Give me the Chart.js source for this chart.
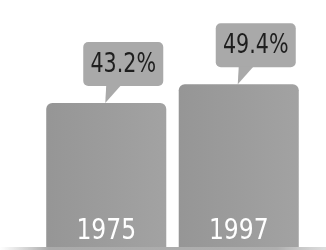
<!DOCTYPE html>
<html>
<head>
<meta charset="utf-8">
<script src="https://cdn.jsdelivr.net/npm/chart.js@4"></script>
<style>
  html, body { margin: 0; padding: 0; background: #fff; }
  #wrap { width: 326px; height: 250px; }
</style>
</head>
<body>
<div id="wrap"><canvas id="myChart"></canvas></div>
<script>
const years = ['1975', '1997'];
const shares = [43.2, 49.4];
const shareLabels = ['43.2%', '49.4%'];

const narrow = "'DejaVu Sans Condensed', 'DejaVu Sans', sans-serif";

// draw text squeezed horizontally, the reference uses a narrow DIN-like face
function squeezed(ctx, text, x, y, sx) {
    ctx.save();
    ctx.translate(x, y);
    ctx.scale(sx, 1);
    ctx.fillText(text, 0, 0);
    ctx.restore();
}

// callout boxes + year labels inside the bars
const labelsPlugin = {
    id: 'labels',
    afterDatasetsDraw(chart) {
        const ctx = chart.ctx;
        const area = chart.chartArea;
        const bars = chart.getDatasetMeta(0).data;
        ctx.save();

        // soft floor line
        let g = ctx.createLinearGradient(0, 0, chart.width, 0);
        g.addColorStop(0, 'rgba(180,180,180,0)');
        g.addColorStop(0.15, 'rgba(170,170,170,1)');
        g.addColorStop(0.85, 'rgba(175,175,175,1)');
        g.addColorStop(1, 'rgba(200,200,200,0.6)');
        ctx.fillStyle = g;
        ctx.fillRect(0, area.bottom, chart.width, 3);

        bars.forEach((bar, i) => {
            // year
            ctx.fillStyle = '#ffffff';
            ctx.font = '29px ' + narrow;
            ctx.textAlign = 'center';
            ctx.textBaseline = 'alphabetic';
            squeezed(ctx, years[i], bar.x, area.bottom - 8, 0.9);

            // callout
            const w = 80, h = 44;
            const bx = bar.x + 17 - w / 2;
            const bBottom = bar.y - 17;
            const by = bBottom - h;
            ctx.fillStyle = '#a9a9a9';
            ctx.beginPath();
            ctx.roundRect(bx, by, w, h, 5);
            ctx.fill();
            ctx.beginPath();
            ctx.moveTo(bar.x - 1, bar.y);
            ctx.lineTo(bar.x, bBottom - 1);
            ctx.lineTo(bar.x + 15, bBottom - 1);
            ctx.closePath();
            ctx.fill();

            ctx.fillStyle = '#1e1e1e';
            ctx.font = '27px ' + narrow;
            ctx.textBaseline = 'middle';
            squeezed(ctx, shareLabels[i], bx + w / 2, by + h / 2 + 1, 0.85);
        });
        ctx.restore();
    }
};

const ctx = document.getElementById('myChart');
new Chart(ctx, {
    type: 'bar',
    data: {
        labels: years,
        datasets: [{
            data: shares,
            base: -4,
            backgroundColor: (c) => {
                const a = c.chart.chartArea;
                if (!a) return '#9c9c9c';
                const g = c.chart.ctx.createLinearGradient(a.left, 0, a.right, 0);
                g.addColorStop(0, '#959595');
                g.addColorStop(0.49, '#a3a3a3');
                g.addColorStop(0.5, '#959595');
                g.addColorStop(1, '#a3a3a3');
                return g;
            },
            borderRadius: { topLeft: 6, topRight: 6 },
            borderSkipped: 'bottom',
            barPercentage: 0.906,
            categoryPercentage: 1
        }]
    },
    options: {
        responsive: true,
        maintainAspectRatio: false,
        animation: false,
        layout: { padding: { left: 40, right: 21, top: 0, bottom: 3 } },
        plugins: { legend: { display: false }, tooltip: { enabled: false } },
        scales: {
            x: { display: false },
            y: { display: false, min: -4, max: 77 }
        }
    },
    plugins: [labelsPlugin]
});
</script>
</body>
</html>
